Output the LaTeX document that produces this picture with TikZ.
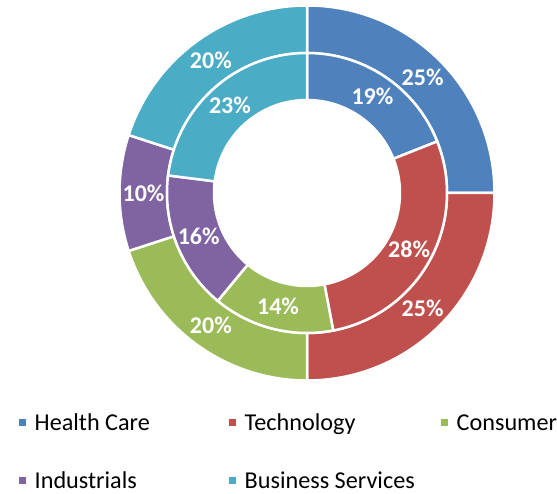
\documentclass[tikz,border=0pt]{standalone}
\usepackage{fontspec}
\setmainfont{Carlito}
\definecolor{hcare}{HTML}{4F81BD}
\definecolor{tech}{HTML}{C0504D}
\definecolor{cons}{HTML}{9BBB59}
\definecolor{indu}{HTML}{8064A2}
\definecolor{bserv}{HTML}{4BACC6}
\tikzset{
  seg/.style={draw=white, line width=2.5pt, line join=miter},
  pct/.style={text=white, inner sep=0pt, font=\fontsize{24}{28}\selectfont\bfseries},
  keybox/.style={minimum size=7pt, inner sep=0pt},
  keytext/.style={anchor=base west, inner sep=0pt, font=\fontsize{24.2}{28}\selectfont}
}
\begin{document}
\begin{tikzpicture}[x=1pt,y=1pt]
\useasboundingbox (0,0) rectangle (557,494);
\begin{scope}[shift={(307,301)}]
% outer ring
\foreach \a/\b/\c/\p [count=\i] in {90/0/hcare/25, 0/-90/tech/25, -90/-162/cons/20, -162/-198/indu/10, -198/-270/bserv/20}{
  \draw[seg, fill=\c] (\a:187.5) arc[start angle=\a, end angle=\b, radius=187.5]
    -- (\b:140) arc[start angle=\b, end angle=\a, radius=140] -- cycle;
  \node[pct] (out\i) at ({(\a+\b)/2}:163.5) {\p\%};
}
% inner ring
\foreach \a/\b/\c/\p [count=\i] in {90/21.6/hcare/19, 21.6/-79.2/tech/28, -79.2/-129.6/cons/14, -129.6/-187.2/indu/16, -187.2/-270/bserv/23}{
  \draw[seg, fill=\c] (\a:140) arc[start angle=\a, end angle=\b, radius=140]
    -- (\b:93) arc[start angle=\b, end angle=\a, radius=93] -- cycle;
  \node[pct] (in\i) at ({(\a+\b)/2}:116.5) {\p\%};
}
\end{scope}
% legend
\foreach \x/\y/\c/\t [count=\i] in {22/71/hcare/Health Care, 232/71/tech/Technology, 444/71/cons/Consumer, 22/13.5/indu/Industrials, 232/13.5/bserv/Business Services}{
  \node[keybox, fill=\c] (key\i) at (\x,\y) {};
  \node[keytext] (lab\i) at ([xshift=12.5pt, yshift=-7.7pt]key\i.center) {\t};
}
\end{tikzpicture}
\end{document}
